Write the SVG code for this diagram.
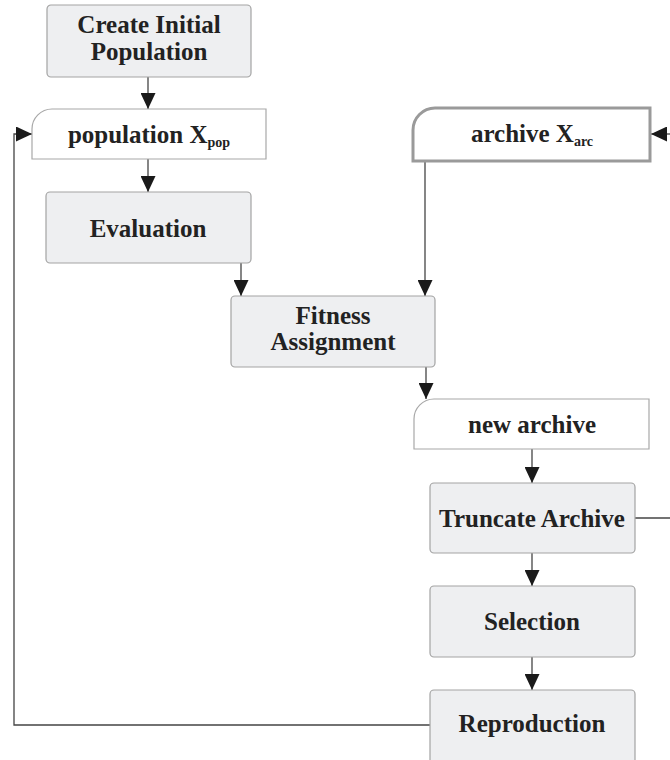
<svg xmlns="http://www.w3.org/2000/svg" width="670" height="760" viewBox="0 0 670 760">
  <style>
    .proc { fill: #eeeff1; stroke: #a3a3a3; stroke-width: 1.2; }
    .store { fill: #ffffff; stroke: #a8a8a8; stroke-width: 1.2; }
    .store-bold { fill: #ffffff; stroke: #9a9a9a; stroke-width: 3; }
    text { font-family: "Liberation Serif", "DejaVu Serif", serif; font-weight: bold; font-size: 25px; fill: #222222; text-anchor: middle; }
    .sub { font-size: 14px; }
    .conn { fill: none; stroke: #444444; stroke-width: 1.3; }
  </style>
  <defs>
    <marker id="arrow" markerUnits="userSpaceOnUse" markerWidth="16" markerHeight="15" refX="16" refY="7.5" orient="auto">
      <path d="M0,0 L16,7.5 L0,15 Z" fill="#1a1a1a"/>
    </marker>
  </defs>

  <rect width="670" height="760" fill="#ffffff"/>

  <!-- connectors -->
  <g id="connectors">
    <path class="conn" d="M148,77 V109" marker-end="url(#arrow)"/>
    <path class="conn" d="M148,159 V192" marker-end="url(#arrow)"/>
    <path class="conn" d="M241,263 V296" marker-end="url(#arrow)"/>
    <path class="conn" d="M425,162 V296" marker-end="url(#arrow)"/>
    <path class="conn" d="M426,367 V399" marker-end="url(#arrow)"/>
    <path class="conn" d="M532,449 V483" marker-end="url(#arrow)"/>
    <path class="conn" d="M532,553 V586" marker-end="url(#arrow)"/>
    <path class="conn" d="M532,657 V690" marker-end="url(#arrow)"/>
    <!-- feedback loop from Reproduction back to the population -->
    <path class="conn" d="M430,725 H14 V134 H32" marker-end="url(#arrow)"/>
    <path class="conn" d="M635,518 H670"/>
    <path class="conn" d="M670,134 H651" marker-end="url(#arrow)"/>
  </g>

  <g id="create-initial-population">
    <rect class="proc" x="47" y="5" width="204" height="72" rx="4"/>
    <text x="149" y="33">Create Initial</text>
    <text x="149" y="60">Population</text>
  </g>

  <g id="population">
    <path class="store" d="M52,109 H266 V159 H32 V129 A20,20 0 0 1 52,109 Z"/>
    <text x="149" y="143">population X<tspan class="sub" dy="4">pop</tspan></text>
  </g>

  <g id="archive">
    <path class="store-bold" d="M435,108 H650 V161 H413 V130 A22,22 0 0 1 435,108 Z"/>
    <text x="532" y="142">archive X<tspan class="sub" dy="4">arc</tspan></text>
  </g>

  <g id="evaluation">
    <rect class="proc" x="46" y="192" width="205" height="71" rx="4"/>
    <text x="148" y="237">Evaluation</text>
  </g>

  <g id="fitness-assignment">
    <rect class="proc" x="231" y="296" width="204" height="71" rx="4"/>
    <text x="333" y="324">Fitness</text>
    <text x="333" y="350">Assignment</text>
  </g>

  <g id="new-archive">
    <path class="store" d="M434,399 H649 V449 H414 V419 A20,20 0 0 1 434,399 Z"/>
    <text x="532" y="433">new archive</text>
  </g>

  <g id="truncate-archive">
    <rect class="proc" x="430" y="483" width="205" height="70" rx="4"/>
    <text x="532" y="527">Truncate Archive</text>
  </g>

  <g id="selection">
    <rect class="proc" x="430" y="586" width="205" height="71" rx="4"/>
    <text x="532" y="630">Selection</text>
  </g>

  <g id="reproduction">
    <rect class="proc" x="430" y="690" width="205" height="74" rx="4"/>
    <text x="532" y="732">Reproduction</text>
  </g>
</svg>
